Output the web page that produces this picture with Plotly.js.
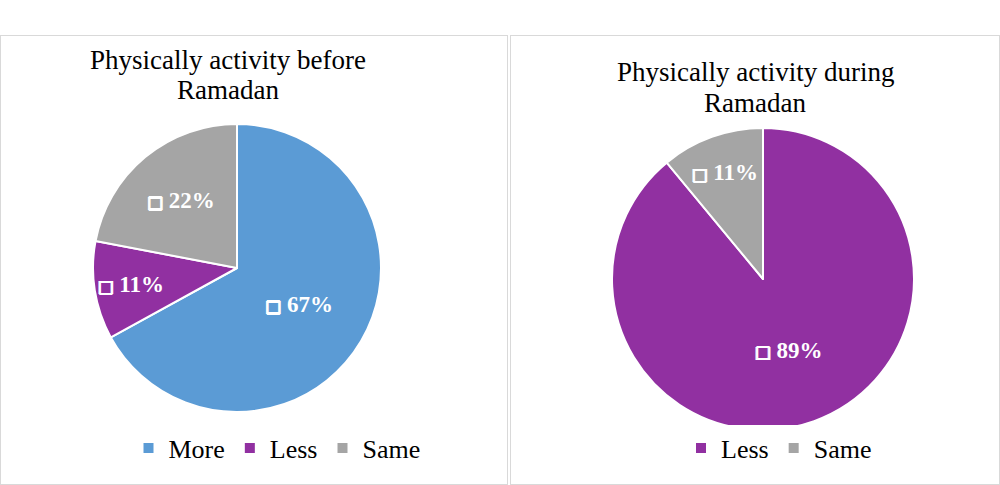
<!DOCTYPE html>
<html>
<head>
<meta charset="utf-8">
<script src="https://cdn.plot.ly/plotly-3.0.1.min.js"></script>
<style>
  html, body { margin: 0; padding: 0; background: #ffffff; width: 1000px; height: 485px; overflow: hidden; }
  .panel { position: absolute; box-sizing: border-box; border: 1px solid #d9d9d9; background: #fff; }
  #left { left: 0px; top: 35px; width: 508px; height: 450px; }
  #right { left: 510px; top: 35px; width: 490px; height: 450px; }
</style>
</head>
<body>
<div id="left" class="panel"><div id="c1"></div></div>
<div id="right" class="panel"><div id="c2"></div></div>
<script>
  // Data
  const beforeLabels = ["More", "Less", "Same"];
  const beforeValues = [67, 11, 22];
  const beforeColors = ["#5B9BD5", "#9130A1", "#A5A5A5"];
  const duringLabels = ["Less", "Same"];
  const duringValues = [89, 11];
  const duringColors = ["#9130A1", "#A5A5A5"];
  const titleBefore = ["Physically activity before", "Ramadan"];
  const titleDuring = ["Physically activity during", "Ramadan"];

  const serif = "Liberation Serif, Times New Roman, serif";
  const sq = '<span style="font-family:DejaVu Sans;font-size:17px;font-weight:bold;text-shadow:0.8px 0 #fff,-0.8px 0 #fff,0 0.8px #fff,0 -0.8px #fff">□</span>';
  const labelTemplate = sq + ' %{percent:.0%}';

  function makePie(labels, values, colors, domain) {
    return {
      type: "pie",
      labels: labels,
      values: values,
      sort: false,
      direction: "clockwise",
      rotation: 0,
      marker: { colors: colors, line: { color: "#ffffff", width: 2 } },
      textinfo: "percent",
      texttemplate: labelTemplate,
      textposition: "inside",
      insidetextorientation: "horizontal",
      textfont: { family: serif, size: 23, color: "#ffffff", weight: "bold" },
      hoverinfo: "label+percent",
      domain: domain
    };
  }

  function layoutFor(w, h, titleLines, titleX, lineYs, legendX, legendY) {
    return {
      width: w,
      height: h,
      margin: { l: 0, r: 0, t: 0, b: 0 },
      paper_bgcolor: "#ffffff",
      showlegend: true,
      annotations: titleLines.map((t, i) => ({
        text: t,
        xref: "paper", yref: "paper",
        x: titleX, y: 1 - lineYs[i] / h,
        xanchor: "center", yanchor: "middle",
        showarrow: false,
        font: { family: serif, size: 27, color: "#000000" }
      })),
      legend: {
        orientation: "h",
        x: legendX, xanchor: "center",
        y: legendY, yanchor: "middle",
        font: { family: serif, size: 26, color: "#000000" },
        itemwidth: 30,
        traceorder: "normal"
      }
    };
  }

  // Left panel: inner size 506 x 448
  const W1 = 506, H1 = 448;
  const R1 = 144, cx1 = 236, cy1 = 232;
  const d1 = { x: [(cx1 - R1) / W1, (cx1 + R1) / W1], y: [1 - (cy1 + R1) / H1, 1 - (cy1 - R1) / H1] };
  Plotly.newPlot("c1", [makePie(beforeLabels, beforeValues, beforeColors, d1)],
    layoutFor(W1, H1, titleBefore, 227 / W1, [24, 54], 276 / W1, 1 - 412 / H1),
    { displayModeBar: false, staticPlot: true });

  // Right panel: inner size 488 x 448
  const W2 = 488, H2 = 448;
  const R2 = 151, cx2 = 252, cy2 = 243;
  const d2 = { x: [(cx2 - R2) / W2, (cx2 + R2) / W2], y: [1 - (cy2 + R2) / H2, 1 - (cy2 - R2) / H2] };
  Plotly.newPlot("c2", [makePie(duringLabels, duringValues, duringColors, d2)],
    layoutFor(W2, H2, titleDuring, 244 / W2, [36, 67], 268 / W2, 1 - 412 / H2),
    { displayModeBar: false, staticPlot: true });
</script>
</body>
</html>
